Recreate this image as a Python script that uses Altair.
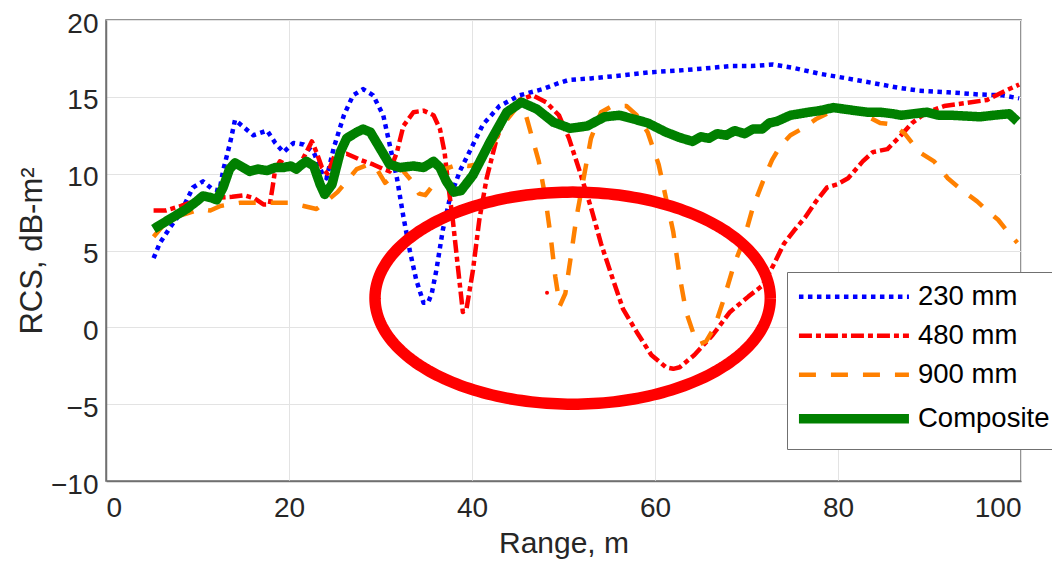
import altair as alt
import numpy as np
import pandas as pd

series_names = ["230 mm", "480 mm", "900 mm", "Composite"]
series_colors = ["#0000ff", "#ff0000", "#ff8000", "#008000"]
series_dashes = [[4.5, 4.5], [13, 4, 5, 4], [17, 15], [1, 0]]
series_widths = [4.5, 4.5, 4.5, 9.5]

x_ticks = [0, 20, 40, 60, 80, 100]
y_ticks = [-10, -5, 0, 5, 10, 15, 20]

# 230 mm
x_230 = [5.2, 5.9, 7.0, 8.1, 9.5, 10.6, 11.6, 12.4, 12.8, 13.6, 14.1, 14.9, 16.1, 17.6, 18.5,
         19.4, 20.5, 21.6, 22.7, 23.7, 24.1, 24.9, 26.0, 27.0, 28.1, 29.2, 30.3, 31.0, 31.8, 32.5,
         33.2, 33.9, 34.7, 35.2, 35.6, 36.1, 36.8, 37.6, 38.7, 39.7, 41.2, 43.0, 45.2, 47.7, 49.5,
         50.6, 53.0, 56.5, 59.5, 62.3, 65.5, 68.2, 70.5, 72.9, 75.0, 78.0, 81.0, 83.8, 86.5, 88.9,
         92.0, 95.5, 98.0, 99.8]
y_230 = [4.5, 5.5, 6.5, 7.4, 9.1, 9.5, 9.0, 8.9, 10.2, 12.1, 13.5, 13.1, 12.5, 12.8, 12.0,
         11.4, 12.0, 11.9, 11.4, 9.9, 9.7, 11.7, 13.8, 15.1, 15.5, 15.1, 13.8, 11.9, 9.7, 7.2,
         5.0, 3.1, 1.6, 1.6, 2.2, 3.7, 6.3, 8.45, 10.2, 11.4, 13.2, 14.4, 15.1, 15.5, 15.9,
         16.1, 16.2, 16.4, 16.6, 16.7, 16.85, 17.0, 17.0, 17.1, 16.9, 16.5, 16.2, 15.9, 15.6, 15.4,
         15.3, 15.15, 15.1, 14.9]

# 480 mm
x_480 = [5.2, 6.5, 8.2, 9.6, 11.1, 12.5, 13.8, 15.1, 16.2, 17.2, 17.9, 18.2, 18.5, 19.0, 20.0,
         20.8, 21.9, 22.5, 23.0, 23.6, 24.2, 25.0, 26.3, 27.8, 29.2, 30.3, 31.0, 31.8, 32.5, 33.6,
         34.7, 35.8, 36.5, 37.0, 37.4, 37.9, 38.5, 39.0, 39.4, 40.1, 40.8, 41.6, 42.7, 43.7, 45.2,
         46.6, 48.1, 49.5, 50.6, 51.8, 53.0, 54.1, 55.3, 56.5, 58.0, 59.6, 61.2, 62.0, 62.7, 64.3,
         66.3, 68.2, 70.2, 71.7, 72.9, 74.1, 75.2, 76.4, 77.6, 78.8, 79.9, 81.1, 82.7, 83.8, 85.4,
         86.9, 88.1, 89.7, 91.6, 94.0, 96.3, 98.3, 99.8]
y_480 = [7.6, 7.6, 7.9, 8.2, 8.45, 8.45, 8.5, 8.6, 8.4, 8.0, 8.0, 9.1, 10.3, 10.8, 10.5,
         10.15, 11.4, 12.1, 11.4, 10.4, 10.0, 11.2, 11.3, 10.9, 10.6, 10.3, 10.15, 11.4, 13.1, 14.0,
         14.1, 13.8, 12.9, 11.4, 9.3, 7.0, 3.7, 1.0, 1.2, 3.7, 7.0, 9.7, 12.3, 13.8, 14.8,
         15.1, 14.65, 13.8, 12.3, 10.1, 7.8, 5.45, 3.3, 1.2, -0.3, -1.8, -2.6, -2.7, -2.6, -1.8,
         -0.5, 1.0, 2.0, 2.7, 4.0, 5.45, 6.3, 7.15, 8.2, 9.1, 9.3, 9.7, 10.8, 11.4, 11.6,
         12.5, 13.3, 14.0, 14.4, 14.6, 14.8, 15.4, 15.8]
# isolated 480 mm fragment
dot_x = [48.2]
dot_y = [2.25]

# 900 mm
x_900 = [5.2, 6.7, 7.7, 8.8, 10.3, 11.4, 12.5, 14.6, 17.6, 20.1, 21.6, 23.0, 24.1, 25.3, 26.3,
         27.4, 28.7, 29.6, 30.5, 31.3, 32.3, 33.3, 34.2, 34.9, 35.8, 37.0, 38.5, 39.6, 40.5, 41.5,
         42.5, 43.4, 44.2, 45.0, 45.8, 46.5, 47.3, 48.0, 48.6, 49.1, 49.6, 50.2, 50.8, 51.4, 52.2,
         53.0, 54.1, 55.3, 56.9, 58.0, 59.2, 60.4, 61.2, 62.0, 62.7, 63.4, 64.2, 64.9, 65.6, 66.5,
         67.5, 68.6, 69.7, 70.7, 71.8, 72.8, 73.7, 74.8, 76.0, 77.6, 79.1, 81.1, 83.0, 84.6, 86.0,
         87.3, 88.9, 90.5, 92.0, 93.6, 95.2, 96.3, 97.5, 98.7, 99.6]
y_900 = [5.9, 6.95, 7.2, 7.4, 7.7, 7.6, 7.9, 8.1, 8.1, 8.1, 7.9, 7.7, 8.2, 8.8, 9.5,
         10.3, 10.6, 10.3, 9.4, 9.8, 10.3, 9.6, 8.7, 8.6, 9.3, 10.3, 10.6, 10.5, 10.6, 11.2,
         12.2, 13.2, 13.8, 14.4, 14.0, 12.5, 10.8, 8.5, 5.9, 3.3, 1.4, 2.2, 4.6, 7.1, 9.7,
         12.3, 14.0, 14.4, 14.4, 13.8, 12.7, 10.6, 8.4, 6.2, 3.3, 1.0, -0.4, -1.1, -0.9, 0.0,
         1.8, 4.0, 5.7, 7.8, 9.5, 10.9, 11.8, 12.5, 12.9, 13.55, 14.0, 14.2, 13.8, 13.3, 13.2,
         12.6, 11.4, 10.8, 9.7, 8.9, 8.2, 7.6, 7.0, 6.1, 5.5]

# Composite
x_comp = [5.2, 6.3, 7.4, 8.8, 9.9, 10.6, 11.4, 12.1, 12.8, 13.5, 14.1, 15.0, 15.7, 16.6, 17.6,
          18.5, 19.4, 20.2, 20.8, 21.4, 21.9, 22.7, 23.4, 23.9, 24.7, 25.6, 26.3, 27.4, 28.1, 28.9,
          29.9, 31.0, 32.1, 33.6, 34.7, 35.8, 36.5, 37.2, 38.0, 38.8, 40.1, 42.0, 43.8, 45.4, 47.1,
          48.9, 50.7, 52.6, 54.5, 56.1, 57.7, 59.2, 61.2, 62.7, 64.1, 65.0, 65.9, 66.8, 67.8, 68.7,
          69.8, 70.7, 71.7, 72.5, 73.3, 74.8, 76.8, 78.0, 79.5, 80.7, 81.9, 83.2, 84.6, 86.0, 86.9,
          88.3, 89.7, 91.0, 92.4, 94.0, 95.5, 97.0, 98.7, 99.6]
y_comp = [6.4, 6.8, 7.2, 7.7, 8.2, 8.55, 8.45, 8.3, 9.1, 10.3, 10.7, 10.4, 10.15, 10.3, 10.2,
          10.4, 10.4, 10.5, 10.3, 10.6, 10.8, 10.5, 9.3, 8.65, 9.3, 11.4, 12.3, 12.7, 12.9, 12.7,
          11.7, 10.6, 10.4, 10.5, 10.4, 10.8, 10.4, 9.5, 8.8, 8.9, 9.9, 12.1, 14.0, 14.65, 14.2,
          13.35, 12.95, 13.1, 13.7, 13.8, 13.55, 13.3, 12.7, 12.35, 12.1, 12.4, 12.3, 12.6, 12.5, 12.8,
          12.6, 12.9, 12.9, 13.3, 13.4, 13.8, 14.0, 14.1, 14.3, 14.2, 14.1, 14.0, 14.0, 13.9, 13.8,
          13.9, 14.0, 13.8, 13.8, 13.75, 13.7, 13.8, 13.9, 13.4]

# annotation ellipse (data units)
ellipse_center = (51.0, 1.9)
ellipse_radii = (21.6, 6.9)

rows = []
for name, xs, ys in [("230 mm", x_230, y_230), ("480 mm", x_480, y_480),
                     ("900 mm", x_900, y_900), ("Composite", x_comp, y_comp)]:
    for i, (a, b) in enumerate(zip(xs, ys)):
        rows.append({"series": name, "x": a, "y": b, "i": i})
df = pd.DataFrame(rows)

t = np.linspace(0, 2 * np.pi, 241)
ell = pd.DataFrame({
    "x": ellipse_center[0] + ellipse_radii[0] * np.cos(t),
    "y": ellipse_center[1] + ellipse_radii[1] * np.sin(t),
    "i": np.arange(len(t)),
})
dots = pd.DataFrame({"x": dot_x, "y": dot_y})

FONT = "Liberation Sans"

xenc = alt.X("x:Q", scale=alt.Scale(domain=[0, 100], nice=False, zero=False),
             axis=alt.Axis(values=x_ticks, title="Range, m", labelPadding=13, titlePadding=6,
                           titleFontSize=30))
yenc = alt.Y("y:Q", scale=alt.Scale(domain=[-10, 20], nice=False, zero=False),
             axis=alt.Axis(values=y_ticks, title="RCS, dB-m²", labelPadding=8, titlePadding=2,
                           labelOffset=4))

lines = alt.Chart(df).mark_line(strokeCap="butt", strokeJoin="round", clip=True).encode(
    x=xenc,
    y=yenc,
    color=alt.Color("series:N", scale=alt.Scale(domain=series_names, range=series_colors),
                    legend=alt.Legend(title=None, orient="none", legendX=681, legendY=252,
                                      direction="vertical", padding=11, rowPadding=10,
                                      strokeColor="#707070", fillColor="white",
                                      labelFont=FONT, labelFontSize=27.5, labelColor="black",
                                      symbolType="M-1.6,0H12.15", symbolSize=256,
                                      labelOffset=92.5)),
    strokeDash=alt.StrokeDash("series:N", scale=alt.Scale(domain=series_names, range=series_dashes)),
    strokeWidth=alt.StrokeWidth("series:N", scale=alt.Scale(type="ordinal", domain=series_names,
                                                            range=series_widths)),
    order="i:Q",
)

dot = alt.Chart(dots).mark_circle(color="#ff0000", size=16, opacity=1).encode(x="x:Q", y="y:Q")

ellipse = alt.Chart(ell).mark_line(color="#ff0000", strokeWidth=11.5, clip=True).encode(
    x="x:Q", y="y:Q", order="i:Q")

chart = alt.layer(lines, dot, ellipse).properties(
    width=915, height=461,
    autosize=alt.AutoSizeParams(type="none"),
    padding={"left": 98, "top": 12, "right": 31, "bottom": 80},
).configure_axis(
    labelFont=FONT, labelFontSize=28, labelColor="#262626",
    titleFont=FONT, titleFontSize=31, titleFontWeight="normal", titleColor="#262626",
    gridColor="#e3e3e3", gridWidth=1, domainColor="#707070", domainWidth=1.5, ticks=False,
).configure_view(stroke="#707070", strokeWidth=1.5)

chart.save("out.html", embed_options={"renderer": "svg", "actions": False})
